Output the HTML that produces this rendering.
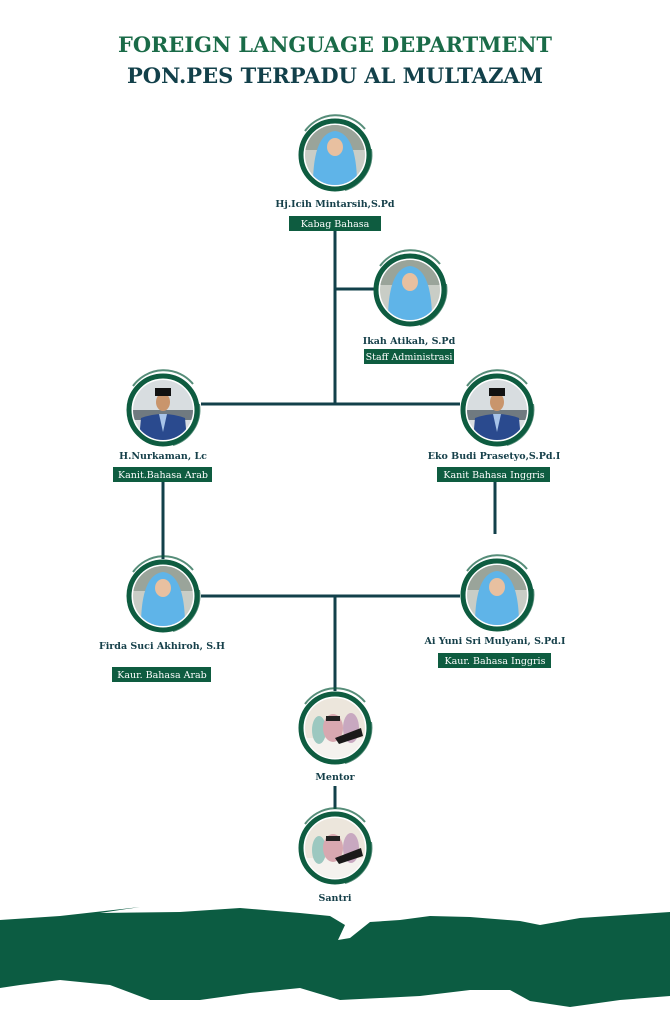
<!DOCTYPE html>
<html><head><meta charset="utf-8"><style>
html,body{margin:0;padding:0;background:#fff;}
svg{display:block;}
text{font-family:"DejaVu Serif","Liberation Serif",serif;font-weight:bold;}
.t{font-size:21px;text-anchor:middle;}
.n{font-size:9.5px;fill:#16404a;text-anchor:middle;}
.b{font-size:9.5px;fill:#fff;text-anchor:middle;font-weight:normal;}
</style></head><body>
<svg width="670" height="1024" viewBox="0 0 670 1024" xmlns="http://www.w3.org/2000/svg">
<defs>
<clipPath id="c"><circle cx="0" cy="0" r="30"/></clipPath>
<g id="ring"><circle cx="0" cy="0" r="34" fill="none" stroke="#0e5c40" stroke-width="5"/><path d="M-30,-24 A38,38 0 0 1 30,-26" fill="none" stroke="#0e5c40" stroke-width="2" opacity=".7"/><path d="M36,-6 A37,37 0 0 1 10,35" fill="none" stroke="#0e5c40" stroke-width="2" opacity=".7"/></g>
<g id="hijab"><g clip-path="url(#c)"><rect x="-30" y="-30" width="60" height="60" fill="#c9cdc6"/><rect x="-30" y="-30" width="60" height="25" fill="#9aa49a"/><path d="M-22,30 C-22,5 -18,-22 0,-24 C18,-22 22,5 22,30 Z" fill="#5fb4e8"/><ellipse cx="0" cy="-8" rx="8" ry="9" fill="#e8c0a0"/></g><use href="#ring"/></g>
<g id="man"><g clip-path="url(#c)"><rect x="-30" y="-30" width="60" height="60" fill="#d8dde0"/><rect x="-30" y="0" width="60" height="10" fill="#707a80"/><path d="M-24,30 L-22,8 Q0,0 22,8 L24,30 Z" fill="#2a4a8e"/><path d="M-4,4 L0,22 L4,4 Z" fill="#a8c4e8"/><ellipse cx="0" cy="-8" rx="7" ry="9" fill="#c9956c"/><rect x="-8" y="-22" width="16" height="8" fill="#111"/></g><use href="#ring"/></g>
<g id="grp"><g clip-path="url(#c)"><rect x="-30" y="-30" width="60" height="60" fill="#ece6dc"/><rect x="-30" y="10" width="60" height="20" fill="#f4f2ee"/><ellipse cx="-16" cy="2" rx="7" ry="14" fill="#9cc8c0"/><ellipse cx="-2" cy="0" rx="10" ry="14" fill="#d8a8b0"/><rect x="-9" y="-12" width="14" height="5" fill="#222"/><ellipse cx="16" cy="0" rx="8" ry="15" fill="#c8a8c0"/><path d="M0,10 L26,0 L28,8 L4,16 Z" fill="#1a1a1a"/></g><use href="#ring"/></g>
</defs>
<text class="t" x="335" y="52" fill="#1a6b48" textLength="434" lengthAdjust="spacingAndGlyphs">FOREIGN LANGUAGE DEPARTMENT</text>
<text class="t" x="335" y="83" fill="#12404a" textLength="416" lengthAdjust="spacingAndGlyphs">PON.PES TERPADU AL MULTAZAM</text>
<g stroke="#12404a" stroke-width="3" fill="none">
<line x1="335" y1="231" x2="335" y2="404"/>
<line x1="335" y1="289" x2="374" y2="289"/>
<line x1="201" y1="404" x2="460" y2="404"/>
<line x1="163" y1="482" x2="163" y2="559"/>
<line x1="495" y1="482" x2="495" y2="534"/>
<line x1="201" y1="596" x2="460" y2="596"/>
<line x1="335" y1="596" x2="335" y2="691"/>
<line x1="335" y1="786" x2="335" y2="809"/>
</g>
<use href="#hijab" x="335" y="155"/>
<use href="#hijab" x="410" y="290"/>
<use href="#man" x="163" y="410"/>
<use href="#man" x="497" y="410"/>
<use href="#hijab" x="163" y="596"/>
<use href="#hijab" x="497" y="595"/>
<use href="#grp" x="335" y="728"/>
<use href="#grp" x="335" y="848"/>
<g fill="#0e5c40">
<rect x="289" y="216" width="92" height="15"/>
<rect x="364" y="349" width="90" height="15"/>
<rect x="113" y="467" width="99" height="15"/>
<rect x="437" y="467" width="113" height="15"/>
<rect x="112" y="667" width="99" height="15"/>
<rect x="438" y="653" width="113" height="15"/>
</g>
<text class="n" x="335" y="207">Hj.Icih Mintarsih,S.Pd</text>
<text class="b" x="335" y="227">Kabag Bahasa</text>
<text class="n" x="409" y="344">Ikah Atikah, S.Pd</text>
<text class="b" x="409" y="360">Staff Administrasi</text>
<text class="n" x="163" y="459">H.Nurkaman, Lc</text>
<text class="b" x="163" y="478">Kanit.Bahasa Arab</text>
<text class="n" x="494" y="459">Eko Budi Prasetyo,S.Pd.I</text>
<text class="b" x="494" y="478">Kanit Bahasa Inggris</text>
<text class="n" x="162" y="649">Firda Suci Akhiroh, S.H</text>
<text class="b" x="162" y="678">Kaur. Bahasa Arab</text>
<text class="n" x="495" y="644">Ai Yuni Sri Mulyani, S.Pd.I</text>
<text class="b" x="495" y="664">Kaur. Bahasa Inggris</text>
<text class="n" x="335" y="780">Mentor</text>
<text class="n" x="335" y="901">Santri</text>
<path fill="#0c5c42" d="M0,920 L60,916 L140,907 L100,913 L180,912 L240,908 L300,913 L330,916 L345,925 L338,940 L350,938 L370,922 L400,920 L430,916 L470,917 L520,921 L540,925 L580,918 L640,914 L670,912 L670,996 L620,1000 L570,1007 L530,1001 L510,990 L470,990 L420,996 L380,998 L340,1000 L300,988 L250,993 L200,1000 L150,1000 L110,985 L60,980 L20,985 L0,988 Z"/>
</svg>
</body></html>
